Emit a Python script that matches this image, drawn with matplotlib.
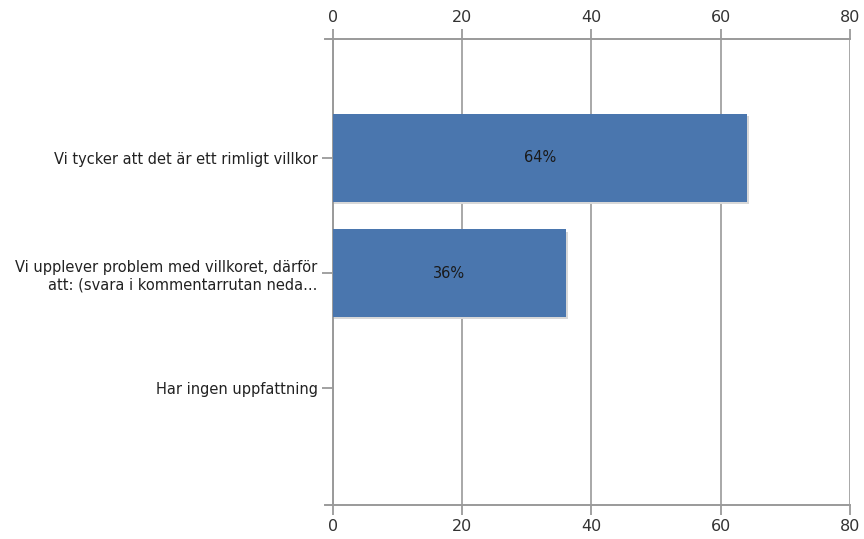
import matplotlib.pyplot as plt

categories = [
    "Vi tycker att det är ett rimligt villkor",
    "Vi upplever problem med villkoret, därför\natt: (svara i kommentarrutan neda...",
    "Har ingen uppfattning",
]
values = [64, 36, 0]
value_labels = ["64%", "36%", ""]
x_ticks = [0, 20, 40, 60, 80]

plt.rcParams['font.family'] = ['DejaVu Sans']
grey = '#9a9a9a'
bar_color = '#4a76ae'

fig = plt.figure(figsize=(8.64, 5.39), dpi=100)
ax = fig.add_axes([0.3854, 0.0631, 0.5984, 0.8645])

pos = list(range(len(categories)))
# light shadow behind the bars
ax.barh([p + 0.02 for p in pos], [v + 0.4 if v else 0 for v in values], height=0.76,
        color='#d8d8d8', zorder=2, left=0)
bars = ax.barh(pos, values, height=0.76, color=bar_color, zorder=3)
for b, lab in zip(bars, value_labels):
    if lab:
        ax.text(b.get_width() / 2, b.get_y() + b.get_height() / 2, lab,
                ha='center', va='center', fontsize=10.5, color='#1a1a1a', zorder=4)

ax.set_xlim(0, 80)
ax.set_ylim(3.01, -1.03)
ax.set_xticks(x_ticks)
ax.set_yticks(pos)
ax.set_yticklabels(categories, fontsize=10.5, color='#222222', ha='right')
ax.tick_params(axis='x', top=True, labeltop=True, bottom=True, labelbottom=True,
               length=7, color=grey, width=1.3, labelsize=11.5, labelcolor='#333333', pad=3)
ax.tick_params(axis='y', length=8, color=grey, width=1.3, pad=3)
for lab in ax.get_yticklabels():
    lab.set_multialignment('right')

ax.grid(axis='x', color='#a8a8a8', linewidth=1.4, zorder=1)
ax.set_axisbelow(True)
for side in ['top', 'bottom', 'left']:
    ax.spines[side].set_color(grey)
    ax.spines[side].set_linewidth(1.4)
ax.spines['right'].set_visible(False)
ax.spines['top'].set_bounds(-1.2, 80)
ax.spines['bottom'].set_bounds(-1.2, 80)

fig.savefig('out.png', dpi=100, facecolor='white')
